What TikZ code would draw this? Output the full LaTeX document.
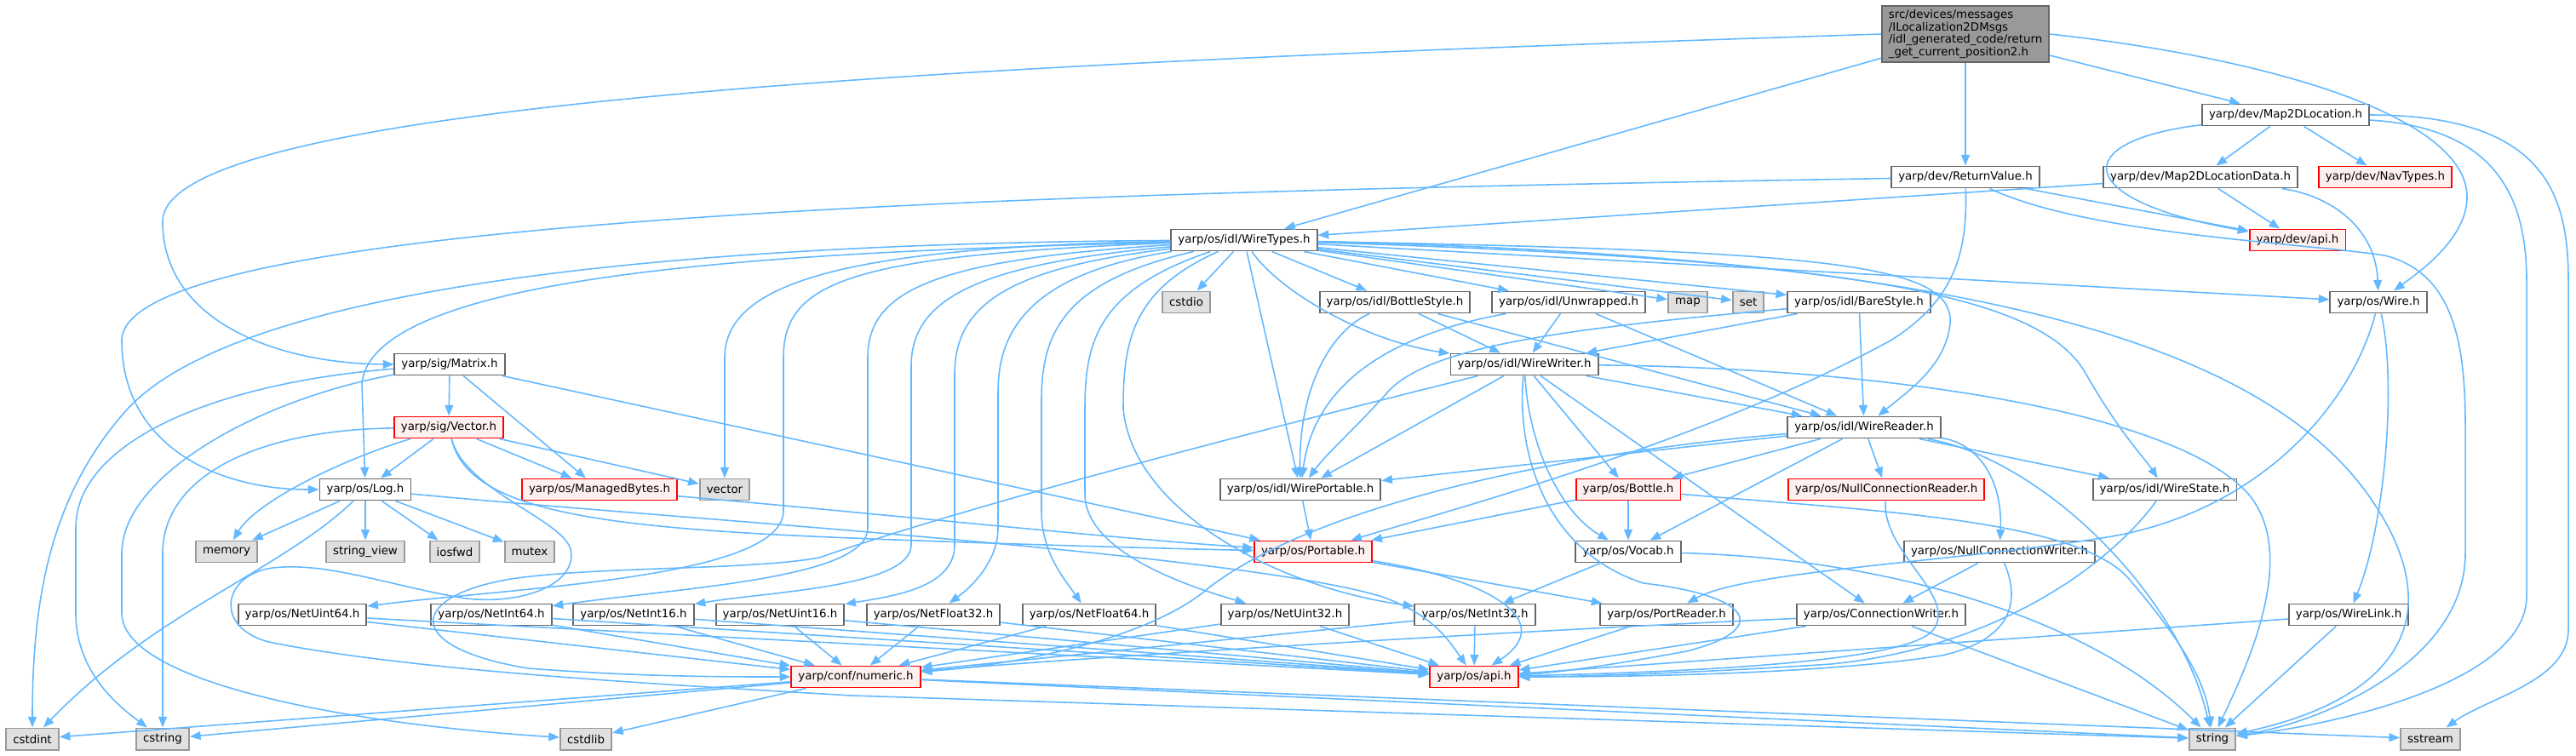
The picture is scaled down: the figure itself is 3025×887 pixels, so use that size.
\documentclass[tikz,border=0pt]{standalone}
\usepackage{fontspec}
\setmainfont{DejaVu Sans}
\usetikzlibrary{arrows.meta}

\definecolor{edgeblue}{HTML}{63B8FF}
\definecolor{boxgray}{HTML}{666666}
\definecolor{sysfill}{HTML}{E0E0E0}
\definecolor{sysline}{HTML}{999999}
\definecolor{redfill}{HTML}{FFF0F0}

\tikzset{
  hdr/.style={draw=boxgray, fill=white, line width=0.55pt, inner xsep=2.3pt, inner ysep=0pt,
    minimum height=0.25cm, font=\fontsize{3.8}{4.25}\selectfont},
  hdrred/.style={hdr, draw=red, fill=redfill},
  sysinc/.style={hdr, draw=sysline, fill=sysfill},
  root/.style={hdr, fill=sysline, align=left, inner ysep=1.2pt},
  inc/.style={draw=edgeblue, line width=0.45pt, -{Triangle[length=3.6pt,width=2.8pt]}}
}

\begin{document}
\begin{tikzpicture}[x=0.01cm,y=-0.01cm]
\useasboundingbox (0,0) rectangle (3025,887);

% top rows
\node[root] (head) at (2308,40) {src/devices/messages\\/ILocalization2DMsgs\\/idl\_generated\_code/return\\\_get\_current\_position2.h};
\node[hdr] (m2dloc) at (2684,135) {yarp/dev/Map2DLocation.h};
\node[hdr] (retval) at (2308,208) {yarp/dev/ReturnValue.h};
\node[hdr] (m2ddata) at (2584,208) {yarp/dev/Map2DLocationData.h};
\node[hdrred] (navtypes) at (2801,208) {yarp/dev/NavTypes.h};
\node[hdr] (wiretypes) at (1461,282) {yarp/os/idl/WireTypes.h};
\node[hdrred] (devapi) at (2698,282) {yarp/dev/api.h};

% idl row
\node[sysinc] (cstdio) at (1393,355) {cstdio};
\node[hdr] (bottlestyle) at (1638,355) {yarp/os/idl/BottleStyle.h};
\node[hdr] (unwrapped) at (1842,355) {yarp/os/idl/Unwrapped.h};
\node[sysinc] (map) at (1982,355) {map};
\node[sysinc] (set) at (2053,355) {set};
\node[hdr] (barestyle) at (2183,355) {yarp/os/idl/BareStyle.h};
\node[hdr] (wire) at (2793,355) {yarp/os/Wire.h};

\node[hdr] (matrix) at (528,428) {yarp/sig/Matrix.h};
\node[hdr] (wirewriter) at (1790,428) {yarp/os/idl/WireWriter.h};
\node[hdrred] (vectorh) at (527,502) {yarp/sig/Vector.h};
\node[hdr] (wirereader) at (2189,502) {yarp/os/idl/WireReader.h};

\node[hdr] (log) at (429,575) {yarp/os/Log.h};
\node[hdrred] (managedbytes) at (704,575) {yarp/os/ManagedBytes.h};
\node[sysinc] (vector) at (851,575) {vector};
\node[hdr] (wireportable) at (1527,575) {yarp/os/idl/WirePortable.h};
\node[hdrred] (bottle) at (1912,575) {yarp/os/Bottle.h};
\node[hdrred] (nullreader) at (2215,575) {yarp/os/NullConnectionReader.h};
\node[hdr] (wirestate) at (2542,575) {yarp/os/idl/WireState.h};

\node[sysinc] (memory) at (266,648) {memory};
\node[sysinc] (stringview) at (429,648) {string\_view};
\node[sysinc] (iosfwd) at (534,648) {iosfwd};
\node[sysinc] (mutex) at (622,648) {mutex};
\node[hdrred] (portable) at (1542,648) {yarp/os/Portable.h};
\node[hdr] (vocab) at (1912,648) {yarp/os/Vocab.h};
\node[hdr] (nullwriter) at (2348,648) {yarp/os/NullConnectionWriter.h};

% net types
\node[hdr] (netuint64) at (355,722) {yarp/os/NetUint64.h};
\node[hdr] (netint64) at (577,722) {yarp/os/NetInt64.h};
\node[hdr] (netint16) at (744,722) {yarp/os/NetInt16.h};
\node[hdr] (netuint16) at (916,722) {yarp/os/NetUint16.h};
\node[hdr] (netfloat32) at (1096,722) {yarp/os/NetFloat32.h};
\node[hdr] (netfloat64) at (1279,722) {yarp/os/NetFloat64.h};
\node[hdr] (netuint32) at (1509,722) {yarp/os/NetUint32.h};
\node[hdr] (netint32) at (1732,722) {yarp/os/NetInt32.h};
\node[hdr] (portreader) at (1957,722) {yarp/os/PortReader.h};
\node[hdr] (connwriter) at (2209,722) {yarp/os/ConnectionWriter.h};
\node[hdr] (wirelink) at (2758,722) {yarp/os/WireLink.h};

\node[hdrred] (numeric) at (1005,795) {yarp/conf/numeric.h};
\node[hdrred] (osapi) at (1731,795) {yarp/os/api.h};

\node[sysinc] (cstdint) at (38,868) {cstdint};
\node[sysinc] (cstring) at (191,868) {cstring};
\node[sysinc] (cstdlib) at (688,868) {cstdlib};
\node[sysinc] (string) at (2598,868) {string};
\node[sysinc] (sstream) at (2854,868) {sstream};

% head
\draw[inc] (head.west) .. controls (1300,70) and (191,110) .. (191,260) .. controls (191,380) and (330,427) .. (matrix.west);
\draw[inc] (head) -- (wiretypes);
\draw[inc] (head) -- (retval);
\draw[inc] (head) -- (m2dloc);
\draw[inc] (head.east) .. controls (2680,70) and (2895,140) .. (2897,230) .. controls (2898,280) and (2840,320) .. (wire);

% dev headers
\draw[inc] (m2dloc) -- (m2ddata);
\draw[inc] (m2dloc) -- (navtypes);
\draw[inc] (m2dloc) .. controls (2430,165) and (2430,235) .. (devapi);
\draw[inc] (m2dloc) .. controls (2930,150) and (2967,230) .. (2967,330) -- (2967,700) .. controls (2967,800) and (2750,850) .. (string);
\draw[inc] (m2dloc) .. controls (2990,135) and (3016,230) .. (3016,330) -- (3016,740) .. controls (3016,800) and (2920,820) .. (sstream);
\draw[inc] (m2ddata) -- (devapi);
\draw[inc] (m2ddata) .. controls (2740,230) and (2790,270) .. (wire);
\draw[inc] (m2ddata) -- (wiretypes);
\draw[inc] (retval) .. controls (1300,225) and (143,250) .. (143,400) .. controls (143,520) and (250,575) .. (log);
\draw[inc] (retval) -- (devapi);
\draw[inc] (retval) .. controls (2450,275) and (2700,285) .. (2800,300) .. controls (2880,320) and (2895,400) .. (2895,500) -- (2895,650) .. controls (2895,780) and (2720,850) .. (string);
\draw[inc] (retval) .. controls (2310,290) and (2300,350) .. (2220,400) .. controls (2000,520) and (1700,600) .. (portable);

% WireTypes.h
\draw[inc] (wiretypes) -- (cstdio);
\draw[inc] (wiretypes) -- (bottlestyle);
\draw[inc] (wiretypes) -- (unwrapped);
\draw[inc] (wiretypes) -- (map);
\draw[inc] (wiretypes) -- (set);
\draw[inc] (wiretypes) -- (barestyle);
\draw[inc] (wiretypes) -- (wire);
\draw[inc] (wiretypes) -- (wireportable);
\draw[inc] (wiretypes) .. controls (1500,340) and (1600,400) .. (wirewriter);
\draw[inc] (wiretypes) .. controls (2150,295) and (2295,310) .. (2290,380) .. controls (2285,430) and (2240,460) .. (wirereader);
\draw[inc] (wiretypes) .. controls (2200,305) and (2400,350) .. (2450,440) .. controls (2490,510) and (2520,540) .. (wirestate);
\draw[inc] (wiretypes) .. controls (2300,300) and (2650,400) .. (2780,580) .. controls (2880,720) and (2820,820) .. (string);
\draw[inc] (wiretypes) .. controls (1000,290) and (851,330) .. (851,420) -- (vector);
\draw[inc] (wiretypes) .. controls (1000,295) and (440,310) .. (425,450) -- (log);
\draw[inc] (wiretypes) .. controls (900,285) and (300,320) .. (150,480) .. controls (60,580) and (38,700) .. (cstdint);
\draw[inc] (wiretypes) .. controls (1000,300) and (920,330) .. (920,420) -- (920,600) .. controls (920,680) and (600,690) .. (netuint64);
\draw[inc] (wiretypes) .. controls (1100,305) and (1019,340) .. (1019,420) -- (1019,620) .. controls (1019,680) and (800,690) .. (netint64);
\draw[inc] (wiretypes) .. controls (1150,310) and (1070,350) .. (1070,430) -- (1070,640) .. controls (1070,690) and (900,695) .. (netint16);
\draw[inc] (wiretypes) .. controls (1180,315) and (1121,360) .. (1121,440) -- (1121,640) .. controls (1121,690) and (1050,700) .. (netuint16);
\draw[inc] (wiretypes) .. controls (1220,320) and (1172,380) .. (1172,460) -- (1172,620) .. controls (1172,660) and (1140,690) .. (netfloat32);
\draw[inc] (wiretypes) .. controls (1250,330) and (1223,390) .. (1223,470) -- (1223,600) .. controls (1223,650) and (1250,680) .. (netfloat64);
\draw[inc] (wiretypes) .. controls (1290,340) and (1274,400) .. (1274,480) -- (1274,580) .. controls (1274,650) and (1400,690) .. (netuint32);
\draw[inc] (wiretypes) .. controls (1330,340) and (1319,400) .. (1319,480) .. controls (1330,600) and (1500,690) .. (netint32);

% sig headers
\draw[inc] (matrix) -- (vectorh);
\draw[inc] (matrix) -- (managedbytes);
\draw[inc] (matrix) -- (portable);
\draw[inc] (matrix) .. controls (250,450) and (89,520) .. (89,620) -- (89,720) .. controls (89,790) and (140,830) .. (cstring);
\draw[inc] (matrix) .. controls (300,470) and (143,560) .. (143,650) -- (143,720) .. controls (143,800) and (400,850) .. (cstdlib);
\draw[inc] (vectorh) -- (log);
\draw[inc] (vectorh) -- (managedbytes);
\draw[inc] (vectorh) -- (vector);
\draw[inc] (vectorh) .. controls (400,540) and (300,590) .. (memory);
\draw[inc] (vectorh) .. controls (300,505) and (191,560) .. (191,650) -- (cstring);
\draw[inc] (vectorh) .. controls (550,600) and (700,620) .. (1000,632) .. controls (1200,640) and (1400,645) .. (portable);
\draw[inc] (vectorh) .. controls (545,575) and (660,610) .. (670,645) .. controls (680,690) and (600,715) .. (530,700) .. controls (450,685) and (380,660) .. (320,667) .. controls (260,675) and (250,740) .. (320,755) .. controls (500,790) and (800,805) .. (1000,817) -- (string);

% Log.h
\draw[inc] (log) -- (memory);
\draw[inc] (log) -- (stringview);
\draw[inc] (log) -- (iosfwd);
\draw[inc] (log) -- (mutex);
\draw[inc] (log) .. controls (330,670) and (180,720) .. (cstdint);
\draw[inc] (log) .. controls (800,610) and (1450,650) .. (1620,700) .. controls (1680,720) and (1700,750) .. (osapi);
\draw[inc] (managedbytes) .. controls (1000,600) and (1300,632) .. (portable);

% WireWriter.h / WireReader.h
\draw[inc] (wirewriter) -- (wirereader);
\draw[inc] (wirewriter) -- (wireportable);
\draw[inc] (wirewriter) -- (bottle);
\draw[inc] (wirewriter) .. controls (1795,520) and (1830,600) .. (vocab);
\draw[inc] (wirewriter) -- (connwriter);
\draw[inc] (wirewriter) .. controls (1780,540) and (1820,650) .. (1930,685) .. controls (2060,700) and (2080,740) .. (1980,765) .. controls (1900,780) and (1830,790) .. (osapi);
\draw[inc] (wirewriter) .. controls (1500,500) and (1150,590) .. (962,655) .. controls (880,670) and (700,665) .. (600,680) .. controls (480,700) and (470,760) .. (620,785) .. controls (750,795) and (850,795) .. (numeric);
\draw[inc] (wirewriter) .. controls (2200,432) and (2550,480) .. (2640,580) .. controls (2700,650) and (2640,780) .. (string);
\draw[inc] (wirereader) -- (wireportable);
\draw[inc] (wirereader) -- (bottle);
\draw[inc] (wirereader) -- (vocab);
\draw[inc] (wirereader) -- (nullreader);
\draw[inc] (wirereader) -- (wirestate);
\draw[inc] (wirereader) .. controls (2320,520) and (2352,560) .. (nullwriter);
\draw[inc] (wirereader) .. controls (2400,540) and (2560,700) .. (string);
\draw[inc] (wirereader) .. controls (1850,530) and (1550,590) .. (1420,690) .. controls (1350,750) and (1200,780) .. (numeric);

% styles
\draw[inc] (bottlestyle) .. controls (1560,390) and (1525,460) .. (wireportable);
\draw[inc] (bottlestyle) -- (wirewriter);
\draw[inc] (bottlestyle) -- (wirereader);
\draw[inc] (unwrapped) .. controls (1650,390) and (1545,440) .. (wireportable);
\draw[inc] (unwrapped) -- (wirewriter);
\draw[inc] (unwrapped) -- (wirereader);
\draw[inc] (barestyle) -- (wirewriter);
\draw[inc] (barestyle) -- (wirereader);
\draw[inc] (barestyle) .. controls (1850,385) and (1680,405) .. (1630,460) .. controls (1590,505) and (1560,530) .. (wireportable);

% lower headers
\draw[inc] (wireportable) -- (portable);
\draw[inc] (bottle) -- (portable);
\draw[inc] (bottle) -- (vocab);
\draw[inc] (bottle) .. controls (2200,600) and (2440,610) .. (2500,680) .. controls (2560,750) and (2590,800) .. (string);
\draw[inc] (portable) -- (portreader);
\draw[inc] (portable) .. controls (1750,680) and (1830,730) .. (osapi);
\draw[inc] (vocab) -- (netint32);
\draw[inc] (vocab) .. controls (2200,655) and (2450,720) .. (string);
\draw[inc] (nullreader) .. controls (2210,650) and (2300,700) .. (2270,740) .. controls (2240,780) and (1950,790) .. (osapi);
\draw[inc] (nullwriter) -- (connwriter);
\draw[inc] (nullwriter) .. controls (2370,700) and (2370,750) .. (2280,770) .. controls (2150,790) and (1950,795) .. (osapi);
\draw[inc] (wirestate) .. controls (2480,660) and (2350,760) .. (2150,780) .. controls (2000,790) and (1850,795) .. (osapi);
\draw[inc] (connwriter) -- (osapi);
\draw[inc] (connwriter) -- (string);
\draw[inc] (connwriter) .. controls (1800,740) and (1300,770) .. (numeric);
\draw[inc] (portreader) -- (osapi);
\draw[inc] (wire) .. controls (2760,480) and (2650,600) .. (2480,630) .. controls (2300,660) and (2050,670) .. (portreader);
\draw[inc] (wire) .. controls (2815,450) and (2800,620) .. (wirelink);
\draw[inc] (wirelink) -- (osapi);
\draw[inc] (wirelink) -- (string);

% net types
\foreach \n in {netuint64,netint64,netint16,netuint16,netfloat32,netfloat64,netuint32,netint32}{
  \draw[inc] (\n) -- (numeric);
  \draw[inc] (\n) -- (osapi);
}

% numeric.h
\draw[inc] (numeric) -- (cstdint);
\draw[inc] (numeric) -- (cstring);
\draw[inc] (numeric) -- (cstdlib);
\draw[inc] (numeric) -- (string);
\draw[inc] (numeric) -- (sstream);
\end{tikzpicture}
\end{document}
